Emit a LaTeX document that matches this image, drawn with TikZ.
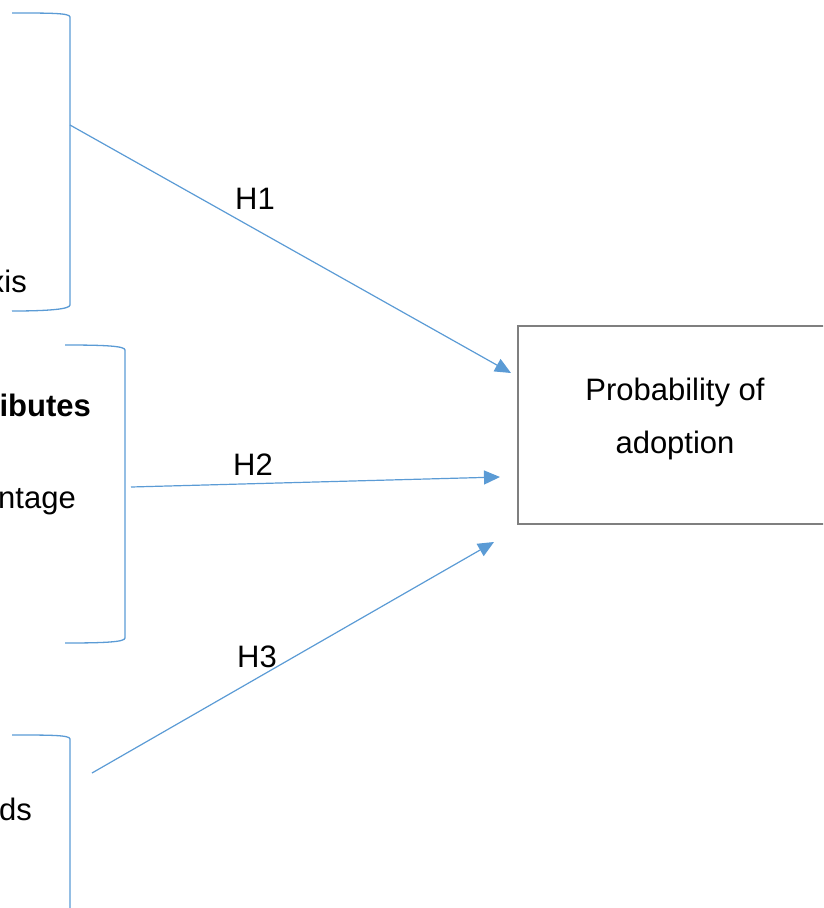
\documentclass[tikz,border=0pt]{standalone}
\usepackage{fontspec}
\setmainfont{Liberation Sans}
\usetikzlibrary{arrows.meta}
\definecolor{linkblue}{HTML}{5B9BD5}
\definecolor{boxgray}{HTML}{7F7F7F}
\tikzset{
  bracket/.style={draw=linkblue, line width=1.3pt},
  link/.style={draw=linkblue, line width=1.2pt, -{Triangle[length=16pt, width=14pt]}},
  label/.style={inner sep=0pt, font=\fontsize{31}{53}\selectfont},
  outcomebox/.style={draw=boxgray, line width=2.3pt, minimum width=314pt, minimum height=198pt, inner sep=0pt}
}
\begin{document}
\begin{tikzpicture}[x=1pt, y=-1pt]
  \useasboundingbox (0,0) rectangle (823,908);
  \clip (0,0) rectangle (823,908);

  % closing brackets of the three factor groups
  \draw[bracket] (12,13) .. controls (50,13) and (70,13) .. (70,17) -- (70,305)
                 .. controls (70,309) and (50,311) .. (12,311);
  \draw[bracket] (65,345) .. controls (105,345) and (125,346) .. (125,350) -- (125,638)
                 .. controls (125,642) and (105,643) .. (65,643);
  \draw[bracket] (12,735) .. controls (50,735) and (70,735) .. (70,739) -- (70,915);

  % group texts, running in from the left
  \node[label, anchor=base east] (grpA) at (27,292) {xis};
  \node[label, anchor=base east, font=\fontsize{31}{53}\selectfont\bfseries] (grpBhead) at (91,416) {ibutes};
  \node[label, anchor=base east] (grpB) at (76,508) {ntage};
  \node[label, anchor=base east] (grpC) at (32,820) {ds};

  % outcome
  \node[outcomebox] (outcome) at (675,425) {};
  \node[label, align=center] (outcomeText) at (675,418.5) {Probability of\\adoption};

  % hypothesis links
  \coordinate (fromA) at (70,125);
  \coordinate (fromB) at (131,487);
  \coordinate (fromC) at (92,773);
  \coordinate (toA) at (511,373);
  \coordinate (toB) at (500,477);
  \coordinate (toC) at (494,542);
  \draw[link] (fromA) -- (toA);
  \draw[link] (fromB) -- (toB);
  \draw[link] (fromC) -- (toC);

  \node[label, anchor=base west] (hA) at (235,209) {H1};
  \node[label, anchor=base west] (hB) at (233,475) {H2};
  \node[label, anchor=base west] (hC) at (237,667) {H3};
\end{tikzpicture}
\end{document}
